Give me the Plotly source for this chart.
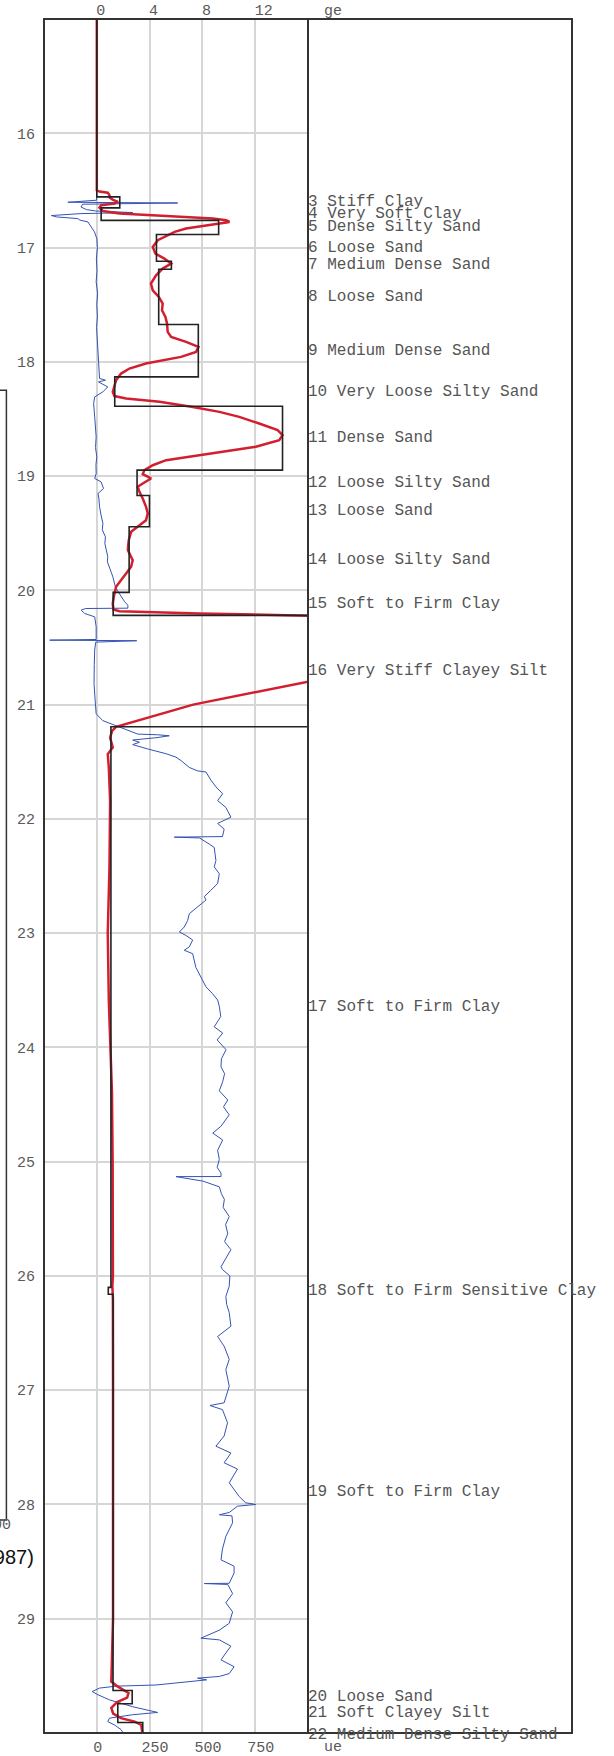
import plotly.graph_objects as go

# ---------------- data ----------------
# pore pressure trace (bottom axis)
u_depth = [15.0, 16.55, 16.586, 16.604, 16.61, 16.621, 16.645, 16.668, 16.68, 16.694, 16.703, 16.72, 16.732, 16.747, 16.76, 16.776, 16.82, 16.863, 16.922,
           17.0, 17.1, 17.2, 17.3, 17.4, 17.5, 17.6, 17.7, 17.8, 17.9, 18.04, 18.146, 18.161, 18.176, 18.22, 18.263, 18.307, 18.365, 18.482, 18.55,
           18.657, 18.75, 18.832, 18.9, 18.977, 19.021, 19.05, 19.109, 19.152, 19.2, 19.269, 19.34, 19.415, 19.47, 19.532, 19.59, 19.648, 19.706,
           19.75, 19.794, 19.84, 19.882, 19.93, 19.969, 20.01, 20.057, 20.1, 20.13, 20.156, 20.159, 20.173, 20.202, 20.232, 20.319, 20.43, 20.436,
           20.441, 20.453, 20.523, 20.65, 20.815, 20.96, 21.08, 21.14, 21.185, 21.215, 21.258, 21.264, 21.273, 21.29, 21.31, 21.33, 21.35, 21.388,
           21.43, 21.46, 21.49, 21.55, 21.58, 21.59, 21.66, 21.72, 21.78, 21.84, 21.9, 21.985, 22.04, 22.09, 22.155, 22.16, 22.167, 22.22, 22.25,
           22.365, 22.42, 22.48, 22.566, 22.625, 22.68, 22.71, 22.77, 22.83, 22.89, 22.946, 22.99, 23.02, 23.06, 23.12, 23.15, 23.18, 23.3, 23.38,
           23.47, 23.53, 23.585, 23.64, 23.73, 23.82, 23.874, 23.935, 24.02, 24.1, 24.17, 24.23, 24.3, 24.38, 24.46, 24.52, 24.59, 24.69, 24.75,
           24.81, 24.9, 24.98, 25.05, 25.1, 25.13, 25.131, 25.17, 25.22, 25.28, 25.33, 25.4, 25.48, 25.55, 25.63, 25.7, 25.77, 25.85, 25.92, 25.944,
           26.0, 26.09, 26.18, 26.25, 26.32, 26.44, 26.53, 26.615, 26.73, 26.82, 26.965, 27.11, 27.134, 27.17, 27.285, 27.4, 27.49, 27.55, 27.635,
           27.69, 27.81, 27.93, 27.985, 28.0, 28.015, 28.07, 28.09, 28.1, 28.16, 28.28, 28.39, 28.485, 28.54, 28.6, 28.69, 28.692, 28.7, 28.78,
           28.86, 28.94, 29.04, 29.1, 29.17, 29.185, 29.24, 29.3, 29.36, 29.42, 29.48, 29.505, 29.52, 29.535, 29.58, 29.59, 29.607, 29.637, 29.665,
           29.71, 29.77, 29.82, 29.84, 29.87, 29.9, 29.93, 29.97, 30.0]
u_kpa = [0, 0, -1, -137, 383, -67, -75, -49, -5, 170, -75, -215, -190, -90, -80, -42, -27, -11, 0,
         3, -2, 1, -3, 4, 0, 3, -1, 2, 5, 10, 13, 41, 8, 52, 29, -10, -15, -10, -6,
         -3, -6, 0, -4, -3, -10, 20, 32, 6, 10, 13, 20, 29, 26, 41, 38, 44, 52,
         50, 60, 68, 76, 82, 88, 100, 115, 132, 147, 147, -53, -74, -58, -10, -3, -3, -223,
         189, -5, -10, -12, -13, -8, -3, 28, 92, 139, 194, 288, 343, 280, 170, 202, 170, 241,
         328, 375, 399, 438, 477, 517, 540, 564, 596, 572, 611, 635, 572, 603, 595, 367, 486, 532, 556,
         564, 556, 580, 572, 540, 509, 517, 477, 438, 430, 414, 391, 422, 454, 438, 414, 454, 469, 493,
         517, 548, 572, 580, 587, 556, 596, 570, 612, 590, 588, 605, 596, 580, 620, 600, 627, 588, 549,
         596, 572, 580, 570, 588, 588, 375, 502, 580, 590, 604, 598, 627, 610, 620, 605, 635, 610, 588, 595,
         630, 627, 611, 615, 627, 635, 572, 603, 627, 611, 627, 603, 536, 595, 619, 603, 564, 635, 603,
         666, 627, 674, 705, 753, 666, 627, 580, 640, 643, 611, 595, 588, 650, 650, 627, 509, 620, 643,
         611, 643, 627, 580, 493, 580, 635, 611, 588, 650, 627, 580, 477, 520, 280, 91, 13, -22, 5,
         60, 170, 288, 170, 60, 52, 84, 115, 125]

# cone resistance trace (top axis)
q_depth = [15.0, 16.499, 16.51, 16.52, 16.543, 16.563, 16.58, 16.6, 16.616, 16.63, 16.65, 16.68, 16.703, 16.718, 16.732, 16.747, 16.761,
           16.776, 16.79, 16.814, 16.834, 16.863, 16.893, 16.936, 16.995, 17.053, 17.097, 17.14, 17.184, 17.243, 17.315, 17.374, 17.432,
           17.49, 17.549, 17.607, 17.665, 17.738, 17.782, 17.826, 17.87, 17.913, 17.957, 18.015, 18.059, 18.103, 18.161, 18.22, 18.263,
           18.3, 18.322, 18.35, 18.395, 18.438, 18.482, 18.54, 18.598, 18.642, 18.686, 18.744, 18.773, 18.817, 18.861, 18.905, 18.948,
           18.983, 19.021, 19.065, 19.094, 19.138, 19.196, 19.269, 19.327, 19.386, 19.444, 19.488, 19.561, 19.648, 19.736, 19.794,
           19.852, 19.911, 19.969, 20.057, 20.115, 20.167, 20.182, 20.202, 20.222, 20.3, 20.5, 20.7, 20.8, 21.0, 21.194, 21.23, 21.29,
           21.375, 21.433, 21.55, 21.84, 22.42, 23.0, 23.59, 23.88, 24.4, 25.0, 25.5, 26.0, 26.09, 26.2, 27.0, 28.0, 29.0, 29.55,
           29.59, 29.65, 29.69, 29.73, 29.78, 29.83, 29.87, 29.9, 29.93, 30.0]
q_mpa = [0, 0, 0.2, 0.83, 0.96, 0.98, 1.2, 1.6, 1.34, 0.33, 0.2, 0.46, 1.72, 4.0, 6.76, 8.8, 9.8,
         10.05, 9.3, 8.0, 6.76, 5.9, 5.4, 4.62, 4.24, 4.44, 5.12, 5.63, 4.99, 4.49, 4.1, 4.24, 4.7,
         4.99, 4.94, 5.2, 5.32, 5.37, 5.63, 6.76, 7.7, 7.52, 6.38, 3.72, 2.47, 1.84, 1.46, 1.29, 1.21,
         1.34, 2.22, 4.75, 7.27, 9.29, 10.79, 12.3, 13.7, 14.07, 13.82, 12.05, 10.29, 7.77, 5.25, 4.24, 3.61,
         3.48, 4.11, 3.48, 3.1, 3.23, 3.48, 3.73, 3.86, 3.73, 3.1, 2.6, 2.42, 2.35, 2.72, 2.6,
         2.22, 1.84, 1.46, 1.29, 1.21, 1.26, 1.72, 7.77, 16.1, 18.5, 21.0, 18.5, 16.0, 7.3, 1.46, 1.16, 1.01,
         1.21, 0.83, 0.91, 1.01, 0.96, 0.83, 0.91, 1.01, 1.15, 1.2, 1.22, 1.22, 1.18, 1.22, 1.23, 1.24, 1.23, 1.1,
         1.54, 2.4, 2.3, 1.54, 1.1, 1.24, 1.83, 2.87, 3.37, 3.45]

# soil layers
profile_start = 15.0
layer_no = [3, 4, 5, 6, 7, 8, 9, 10, 11, 12, 13, 14, 15, 16, 17, 18, 19, 20, 21, 22]
layer_name = ["Stiff Clay", "Very Soft Clay", "Dense Silty Sand", "Loose Sand", "Medium Dense Sand", "Loose Sand",
              "Medium Dense Sand", "Very Loose Silty Sand", "Dense Sand", "Loose Silty Sand", "Loose Sand",
              "Loose Silty Sand", "Soft to Firm Clay", "Very Stiff Clayey Silt", "Soft to Firm Clay",
              "Soft to Firm Sensitive Clay", "Soft to Firm Clay", "Loose Sand", "Soft Clayey Silt",
              "Medium Dense Silty Sand"]
layer_top = [16.557, 16.653, 16.762, 16.886, 17.12, 17.19, 17.674, 18.132, 18.389, 18.948, 19.17, 19.444, 20.018,
             20.219, 21.194, 26.10, 26.16, 29.628, 29.744, 29.908]
layer_bottom = layer_top[1:] + [30.13]
layer_qe = [1.74, 0.33, 9.23, 4.52, 5.65, 4.69, 7.69, 1.36, 14.07, 3.05, 3.99, 2.45, 1.24, 19.0, 1.07, 0.87,
            1.23, 2.68, 1.59, 3.48]

depth_ticks = list(range(16, 30))
u_ticks = [0, 250, 500, 750]
u_ticktext = ["0", "\u00a0250", "\u00a0500", "\u00a0750"]
q_ticks = [0, 4, 8, 12]
q_ticktext = ["0", "4", "8", "\u00a012"]
u_range = [-250, 1000]
q_range = [-4, 16]
depth_range = [30, 15]

# ---------------- figure ----------------
FONT = "Courier New, Liberation Mono, monospace"
TICKC = "#5a5a5a"
GRIDC = "#d6d6d6"

step_x = [0]
step_y = [profile_start]
for t, b, q in zip(layer_top, layer_bottom, layer_qe):
    step_x += [step_x[-1], q, q]
    step_y += [t, t, b]

fig = go.Figure()
fig.add_trace(go.Scatter(x=u_kpa, y=u_depth, mode="lines", xaxis="x", yaxis="y",
                         line=dict(color="#3553b4", width=1), hoverinfo="skip"))
fig.add_trace(go.Scatter(x=q_mpa, y=q_depth, mode="lines", xaxis="x2", yaxis="y",
                         line=dict(color="#d21f2f", width=2.5), hoverinfo="skip"))
fig.add_trace(go.Scatter(x=step_x, y=step_y, mode="lines", xaxis="x2", yaxis="y",
                         line=dict(color="#222222", width=1.6), hoverinfo="skip"))

annotations = []
span = depth_range[0] - depth_range[1]
for n, name, t, b in zip(layer_no, layer_name, layer_top, layer_bottom):
    mid = (t + b) / 2
    annotations.append(dict(text=f"{n} {name}", xref="paper", yref="paper", x=0.5,
                            y=(depth_range[0] - mid) / span, xanchor="left", yanchor="middle",
                            yshift=0, xshift=-2, showarrow=False,
                            font=dict(family=FONT, size=16, color="#555555")))
annotations.append(dict(text="ge", xref="paper", yref="paper", x=0.547, y=1, xanchor="center",
                        yanchor="middle", yshift=8, showarrow=False,
                        font=dict(family=FONT, size=15, color=TICKC)))
annotations.append(dict(text="ue", xref="paper", yref="paper", x=0.547, y=0, xanchor="center",
                        yanchor="middle", yshift=-14, showarrow=False,
                        font=dict(family=FONT, size=15, color=TICKC)))
# fragment of neighbouring chart at the left edge
annotations.append(dict(text="1000", xref="paper", yref="paper", x=-0.058, y=0.1213, xanchor="right",
                        yanchor="middle", showarrow=False, font=dict(family=FONT, size=15, color=TICKC)))
annotations.append(dict(text="(1987)", xref="paper", yref="paper", x=-0.0155, y=0.1027, xanchor="right",
                        yanchor="middle", showarrow=False,
                        font=dict(family="Liberation Sans, Arial", size=20, color="#111111")))

shapes = [
    dict(type="rect", xref="paper", yref="paper", x0=0, x1=1, y0=0, y1=1,
         line=dict(color="#333333", width=2)),
    dict(type="line", xref="paper", yref="paper", x0=0.5, x1=0.5, y0=0, y1=1,
         line=dict(color="#333333", width=2)),
    dict(type="rect", xref="paper", yref="paper", x0=-0.12, x1=-0.0712, y0=0.1243, y1=0.7834,
         line=dict(color="#333333", width=1.5)),
]

fig.update_layout(
    width=614, height=1756,
    margin=dict(l=44, r=42, t=19, b=23, autoexpand=False),
    paper_bgcolor="white", plot_bgcolor="white",
    showlegend=False,
    font=dict(family=FONT, size=15, color=TICKC),
    xaxis=dict(domain=[0, 0.5], range=u_range, tickvals=u_ticks, ticktext=u_ticktext, side="bottom",
               anchor="y", showgrid=True, gridcolor=GRIDC, gridwidth=1.5, zeroline=False, showline=False,
               ticks="", automargin=False, ticklabelstandoff=3, ticklabelshift=1,
               tickfont=dict(family=FONT, size=15, color=TICKC)),
    xaxis2=dict(overlaying="x", range=q_range, tickvals=q_ticks, ticktext=q_ticktext, side="top",
                anchor="y", showgrid=False, zeroline=False, showline=False, ticks="", automargin=False,
                ticklabelshift=4, tickfont=dict(family=FONT, size=15, color=TICKC)),
    yaxis=dict(domain=[0, 1], range=depth_range, tickvals=depth_ticks, anchor="x",
               showgrid=True, gridcolor=GRIDC, gridwidth=1.5, zeroline=False, showline=False,
               ticks="", automargin=False, ticklabelstandoff=8,
               tickfont=dict(family=FONT, size=15, color=TICKC)),
    annotations=annotations,
    shapes=shapes,
)

fig.write_html("out.html", config={"displayModeBar": False},
               post_script="document.body.style.margin='0';")
